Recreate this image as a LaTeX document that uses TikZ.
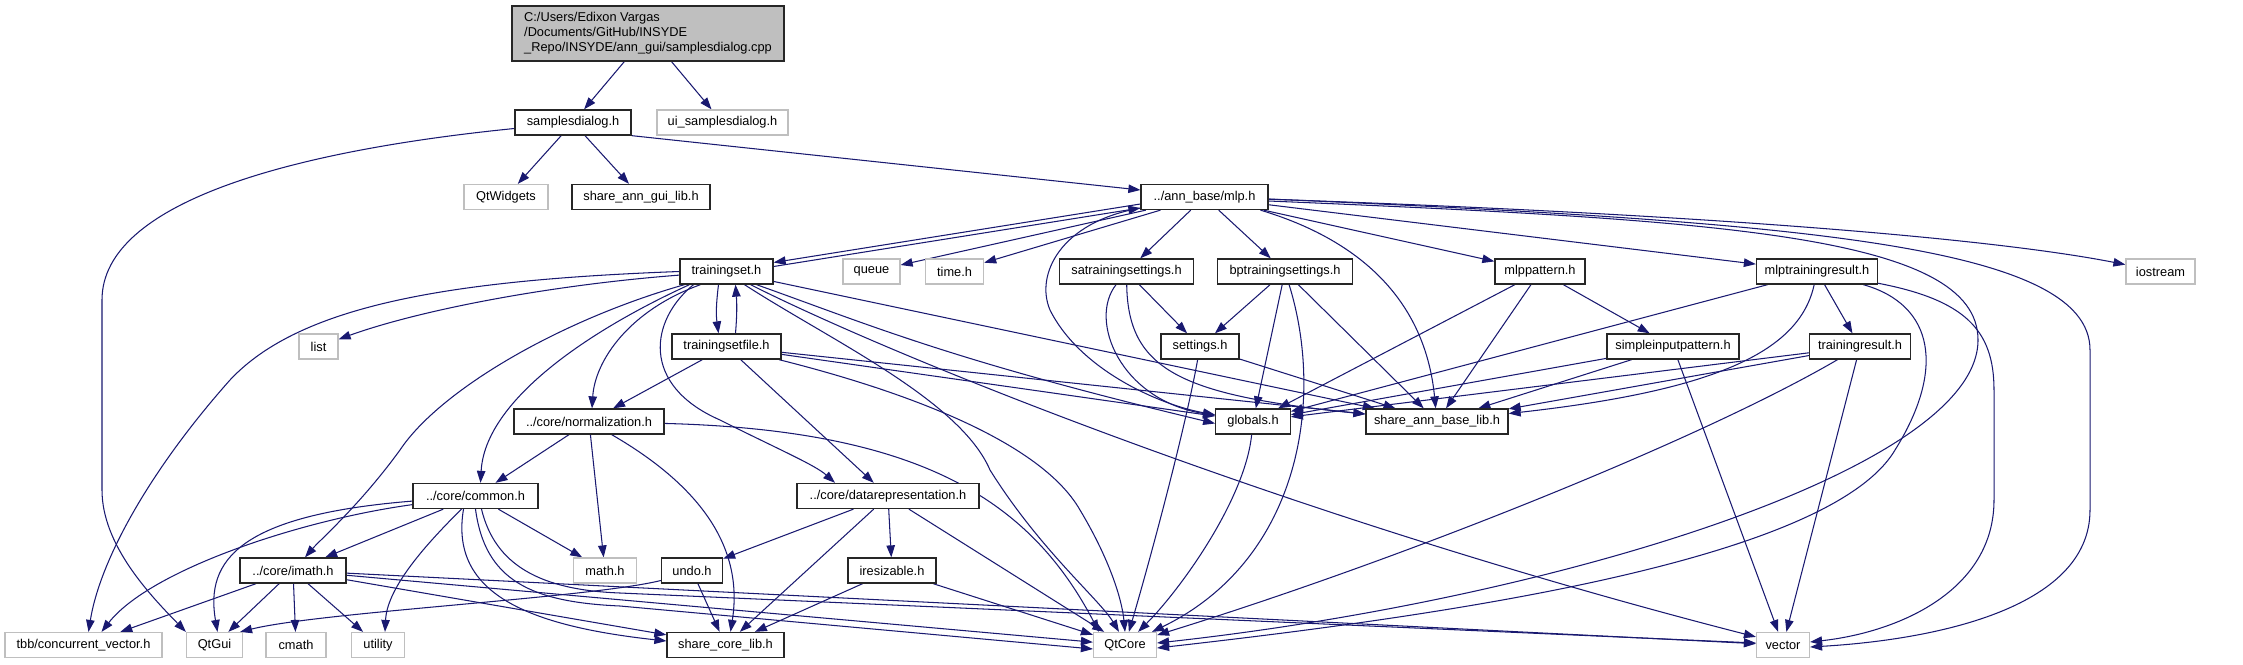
\documentclass[tikz,border=0pt]{standalone}
\usepackage{fontspec}
\setmainfont{Liberation Sans}
\usetikzlibrary{arrows.meta,backgrounds}
\definecolor{edgeblue}{HTML}{191970}
\definecolor{extgrey}{HTML}{BFBFBF}
\definecolor{rootgrey}{HTML}{BFBFBF}
\newcommand\dgfont{\fontsize{12.8}{15}\selectfont}
\begin{document}
\begin{tikzpicture}[x={(1pt,0pt)}, y={(0pt,-1pt)},
  box/.style={rectangle, minimum height=25pt, inner sep=0pt, font=\dgfont, fill=white},
  hdr/.style={box, draw=black!85, line width=1.3pt},
  ext/.style={box, draw=extgrey, line width=1.2pt},
  dep/.style={draw=edgeblue, line width=1.05pt, -{Triangle[length=12pt,width=8.5pt]}}]
\useasboundingbox (0,0) rectangle (2243,664);
% nodes
\node[hdr, fill=rootgrey, align=left, minimum width=272pt, minimum height=55pt] (root) at (648,33.5)
  {C:/Users/Edixon Vargas\\/Documents/GitHub/INSYDE\\\_Repo/INSYDE/ann\_gui/samplesdialog.cpp};
\node[hdr, minimum width=116pt] (sd) at (573,122.5) {samplesdialog.h};
\node[ext, minimum width=131pt] (ui) at (722.5,122.5) {ui\_samplesdialog.h};
\node[ext, minimum width=84pt] (qtw) at (506,197) {QtWidgets};
\node[hdr, minimum width=138pt] (gui) at (641,197) {share\_ann\_gui\_lib.h};
\node[hdr, minimum width=127pt] (mlp) at (1204.5,197) {../ann\_base/mlp.h};
\node[hdr, minimum width=93pt] (ts) at (726.5,271.5) {trainingset.h};
\node[ext, minimum width=57pt] (queue) at (871.5,271.5) {queue};
\node[ext, minimum width=58pt] (time) at (954.6,271.5) {time.h};
\node[hdr, minimum width=134pt] (sats) at (1126.5,271.5) {satrainingsettings.h};
\node[hdr, minimum width=135pt] (bpts) at (1285,271.5) {bptrainingsettings.h};
\node[hdr, minimum width=90pt] (mlpp) at (1540,271.5) {mlppattern.h};
\node[hdr, minimum width=121pt] (mltr) at (1817,271.5) {mlptrainingresult.h};
\node[ext, minimum width=69pt] (ios) at (2160.5,271.5) {iostream};
\node[ext, minimum width=39pt] (list) at (318.5,346.5) {list};
\node[hdr, minimum width=109pt] (tsf) at (726.5,346.5) {trainingsetfile.h};
\node[hdr, minimum width=78pt] (set) at (1200,346.5) {settings.h};
\node[hdr, minimum width=132pt] (sip) at (1673,346.5) {simpleinputpattern.h};
\node[hdr, minimum width=101pt] (tr) at (1860,346.5) {trainingresult.h};
\node[hdr, minimum width=150pt] (norm) at (589,421.5) {../core/normalization.h};
\node[hdr, minimum width=74.5pt] (glob) at (1253,421.5) {globals.h};
\node[hdr, minimum width=142pt] (sabl) at (1437,421.5) {share\_ann\_base\_lib.h};
\node[hdr, minimum width=125pt] (common) at (475.5,496) {../core/common.h};
\node[hdr, minimum width=182pt] (datarep) at (888,496) {../core/datarepresentation.h};
\node[hdr, minimum width=106pt] (imath) at (293,570.5) {../core/imath.h};
\node[ext, minimum width=63pt] (mathh) at (605,570.5) {math.h};
\node[hdr, minimum width=61pt] (undo) at (692,570.5) {undo.h};
\node[hdr, minimum width=88pt] (iresz) at (892,570.5) {iresizable.h};
\node[ext, minimum width=157pt] (tbb) at (83.5,645) {tbb/concurrent\_vector.h};
\node[ext, minimum width=56pt] (qtgui) at (214.5,645) {QtGui};
\node[ext, minimum width=60pt] (cmath) at (296,645) {cmath};
\node[ext, minimum width=53pt] (utility) at (378,645) {utility};
\node[hdr, minimum width=117pt] (scl) at (725.5,645) {share\_core\_lib.h};
\node[ext, minimum width=63pt] (qtcore) at (1125,645) {QtCore};
\node[ext, minimum width=53pt] (vector) at (1783,645) {vector};
% edges
\begin{scope}[on background layer]
\draw[dep] (root) -- (sd);
\draw[dep] (root) -- (ui);
\draw[dep] (sd) -- (qtw);
\draw[dep] (sd) -- (gui);
\draw[dep] (sd.south east) -- ([yshift=7pt]mlp.west);
\draw[dep] ([yshift=-6pt]sd.west) .. controls (300,150) and (102,200) .. (102,300) -- (102,490) .. controls (102,545) and (150,595) .. (qtgui.north west);
% mlp
\draw[dep] ([yshift=-7pt]mlp.west) -- ([yshift=9pt]ts.east);
\draw[dep] ([yshift=5pt]ts.east) -- ([yshift=-11pt]mlp.west);
\draw[dep] (mlp) -- (queue);
\draw[dep] (mlp) -- (time);
\draw[dep] (mlp) -- (sats);
\draw[dep] (mlp) -- (bpts);
\draw[dep] (mlp) -- (mlpp);
\draw[dep] (mlp) -- (mltr);
\draw[dep] (mlp) .. controls (1700,214) and (1990,238) .. (ios);
\draw[dep] ([yshift=-2pt]mlp.east) .. controls (1800,222) and (2090,245) .. (2090,350) -- (2090,510) .. controls (2090,610) and (1930,640) .. ([yshift=-2pt]vector.east);
\draw[dep] ([yshift=-4pt]mlp.east) .. controls (1720,220) and (1978,235) .. (1978,340) .. controls (1978,470) and (1550,600) .. ([yshift=2pt]qtcore.east);
\draw[dep] ([xshift=56pt]mlp.south) .. controls (1360,240) and (1425,300) .. (sabl);
\draw[dep] (mlp) .. controls (1060,222) and (1035,275) .. (1050,310) .. controls (1080,370) and (1160,405) .. (glob);
% mlptrainingresult
\draw[dep] (mltr) -- (tr);
\draw[dep] (mltr) -- (glob);
\draw[dep] (mltr) .. controls (1800,350) and (1720,390) .. (sabl);
\draw[dep] (mltr) .. controls (1935,305) and (1945,370) .. (1895,450) .. controls (1830,560) and (1450,615) .. ([yshift=-3pt]qtcore.east);
\draw[dep] (mltr) .. controls (1965,300) and (1994,330) .. (1994,390) -- (1994,500) .. controls (1994,590) and (1900,632) .. ([yshift=3pt]vector.east);
% mlppattern, simpleinputpattern, trainingresult
\draw[dep] (mlpp) -- (sip);
\draw[dep] (mlpp) -- (glob);
\draw[dep] (mlpp) -- (sabl);
\draw[dep] (sip) -- (sabl);
\draw[dep] (sip) -- (glob);
\draw[dep] (sip) -- (vector);
\draw[dep] (tr) -- (sabl);
\draw[dep] (tr) -- (glob);
\draw[dep] (tr) -- (vector);
\draw[dep] (tr) .. controls (1700,440) and (1400,560) .. (qtcore);
% settings
\draw[dep] (sats) -- (set);
\draw[dep] (sats) .. controls (1088,320) and (1120,400) .. (glob);
\draw[dep] (sats) .. controls (1128,370) and (1180,395) .. (sabl);
\draw[dep] (bpts) -- (set);
\draw[dep] (bpts) -- (glob);
\draw[dep] (bpts) -- (sabl);
\draw[dep] (bpts) .. controls (1325,400) and (1300,560) .. (qtcore);
\draw[dep] (set) -- (sabl);
\draw[dep] (set) .. controls (1185,430) and (1150,560) .. (qtcore);
\draw[dep] (glob) .. controls (1245,500) and (1180,590) .. (qtcore);
% trainingset
\draw[dep] ([xshift=-8pt]ts.south) .. controls (716,305) and (716,315) .. ([xshift=-8pt]tsf.north);
\draw[dep] ([xshift=9pt]tsf.north) .. controls (737,315) and (737,305) .. ([xshift=9pt]ts.south);
\draw[dep] (ts) .. controls (550,285) and (420,310) .. (list);
\draw[dep] (ts.west) .. controls (450,280) and (300,305) .. (230,380) .. controls (150,470) and (100,560) .. ([xshift=5pt]tbb.north);
\draw[dep] ([xshift=-42pt]ts.south) .. controls (560,320) and (440,390) .. (400,450) .. controls (360,505) and (320,540) .. ([xshift=12pt]imath.north);
\draw[dep] ([xshift=-37pt]ts.south) .. controls (590,330) and (485,400) .. ([xshift=5pt]common.north);
\draw[dep] ([xshift=-26pt]ts.south) .. controls (630,310) and (595,360) .. ([xshift=3pt]norm.north);
\draw[dep] ([xshift=-33pt]ts.south) .. controls (650,320) and (640,385) .. (720,420) .. controls (780,450) and (815,465) .. ([xshift=-53pt]datarep.north);
\draw[dep] ([xshift=18pt]ts.south) .. controls (830,340) and (960,400) .. (990,470) .. controls (1040,550) and (1100,600) .. ([xshift=-6pt]qtcore.north);
\draw[dep] ([xshift=24pt]ts.south) .. controls (900,360) and (1300,520) .. ([yshift=-5pt]vector.north west);
\draw[dep] ([xshift=30pt]ts.south) .. controls (870,325) and (950,360) .. ([yshift=-2pt]glob.west);
\draw[dep] (ts) -- (sabl);
% trainingsetfile
\draw[dep] (tsf) -- (norm);
\draw[dep] (tsf) -- (datarep);
\draw[dep] (tsf) .. controls (900,390) and (1040,440) .. (1080,510) .. controls (1110,560) and (1122,600) .. (qtcore.north);
\draw[dep] (tsf) -- (glob);
\draw[dep] (tsf) -- (sabl);
% normalization
\draw[dep] (norm) -- (common);
\draw[dep] (norm) -- (mathh);
\draw[dep] (norm) .. controls (690,480) and (745,540) .. ([xshift=5pt]scl.north);
\draw[dep] (norm) .. controls (920,430) and (1030,500) .. ([xshift=-26pt]qtcore.north);
% common
\draw[dep] (common) .. controls (300,520) and (150,570) .. ([xshift=18pt]tbb.north);
\draw[dep] (common) .. controls (240,515) and (205,560) .. ([xshift=3pt]qtgui.north);
\draw[dep] (common) -- (imath);
\draw[dep] ([xshift=-14pt]common.south) .. controls (420,550) and (387,590) .. ([xshift=7pt]utility.north);
\draw[dep] (common) -- (mathh);
\draw[dep] ([xshift=-12pt]common.south) .. controls (450,590) and (520,625) .. ([yshift=4pt]scl.west);
\draw[dep] (common.south) .. controls (485,580) and (530,602) .. (620,606) -- ([yshift=-4pt]qtcore.west);
\draw[dep] ([xshift=6pt]common.south) .. controls (495,565) and (540,590) .. (620,593) -- ([yshift=2pt]vector.west);
% imath
\draw[dep] (imath) -- (tbb);
\draw[dep] (imath) -- (qtgui);
\draw[dep] (imath) -- (cmath);
\draw[dep] (imath) -- (utility);
\draw[dep] (imath) -- (scl);
\draw[dep] (imath) -- (qtcore);
\draw[dep] (imath) -- (vector);
% datarepresentation, undo, iresizable
\draw[dep] (datarep) -- (undo);
\draw[dep] (datarep) -- (iresz);
\draw[dep] (datarep) -- (scl);
\draw[dep] (datarep) -- (qtcore);
\draw[dep] ([yshift=-10pt]undo.west) .. controls (590,598) and (320,612) .. ([xshift=-3pt]qtgui.north east);
\draw[dep] (undo) -- (scl);
\draw[dep] (iresz) -- (scl);
\draw[dep] (iresz) -- (qtcore);
\end{scope}
\end{tikzpicture}
\end{document}
